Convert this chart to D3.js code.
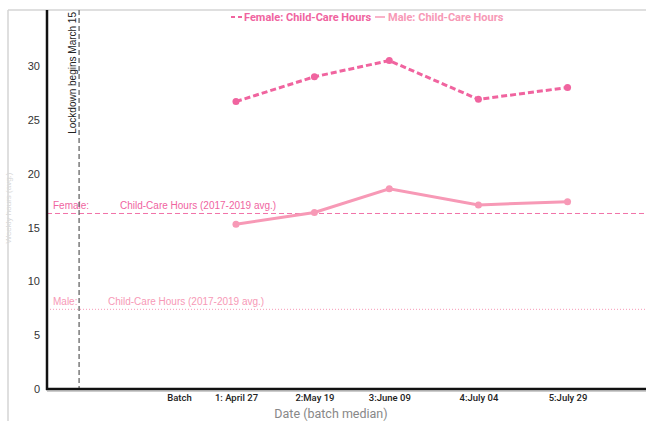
<!DOCTYPE html>
<html>
<head>
<meta charset="utf-8">
<script src="https://cdn.jsdelivr.net/npm/d3@7"></script>
<style>
  body { margin: 0; background: #fff; }
  svg { display: block; font-family: 'Liberation Sans', Arial, sans-serif; }
</style>
</head>
<body>
<svg id="chart"></svg>
<script>
// batch median dates and labels
const batchDates = ['2020-04-11', '2020-04-27', '2020-05-19', '2020-06-09', '2020-07-04', '2020-07-29'];
const batchLabels = ['Batch', '1: April 27', '2:May 19', '3:June 09', '4:July 04', '5:July 29'];
const pointDates = ['2020-04-27', '2020-05-19', '2020-06-09', '2020-07-04', '2020-07-29'];
const femaleHours = [26.7, 29.0, 30.5, 26.9, 28.0];
const maleHours = [15.3, 16.4, 18.6, 17.1, 17.4];
const femaleAvg = 16.3;
const maleAvg = 7.4;
// where the lockdown marker sits on the time axis (label says March 15)
const lockdownDate = '2020-03-14';
const yTicks = [0, 5, 10, 15, 20, 25, 30];

const width = 646;
const height = 421;
const padLeft = 47;
const padTop = 10;
const baseY = 389;

const femaleColor = '#f0649f';
const maleColor = '#f799b6';

const parse = d3.timeParse('%Y-%m-%d');

const svg = d3.select('#chart').attr('width', width).attr('height', height);

// outer frame
svg.append('line').attr('x1', 8).attr('x2', width).attr('y1', padTop).attr('y2', padTop)
  .attr('stroke', '#d4d4d4').attr('stroke-width', 1.5);
svg.append('line').attr('x1', 8).attr('x2', 8).attr('y1', padTop).attr('y2', height)
  .attr('stroke', '#d4d4d4').attr('stroke-width', 1.5);

const x = d3.scaleTime()
  .domain([parse('2020-03-05'), parse('2020-08-20')])
  .range([padLeft, width]);

const y = d3.scaleLinear()
  .domain([0, 35.2])
  .range([baseY, padTop]);

// faint y title
svg.append('text')
  .attr('transform', 'translate(11,' + 208 + ') rotate(-90)')
  .attr('text-anchor', 'middle')
  .style('font-size', '8px')
  .style('fill', '#d8d8d8')
  .text('Weekly hours (avg.)');

// reference lines
svg.append('line')
  .attr('x1', padLeft).attr('x2', width)
  .attr('y1', y(femaleAvg)).attr('y2', y(femaleAvg))
  .attr('stroke', femaleColor).attr('stroke-width', 1).attr('stroke-dasharray', '5,3')
  .attr('opacity', 0.9);
svg.append('line')
  .attr('x1', padLeft).attr('x2', width)
  .attr('y1', y(maleAvg)).attr('y2', y(maleAvg))
  .attr('stroke', maleColor).attr('stroke-width', 1).attr('stroke-dasharray', '1,2');

svg.append('text').attr('x', 53).attr('y', y(femaleAvg) - 4)
  .style('font-size', '10px').style('fill', femaleColor).text('Female:');
svg.append('text').attr('x', 120).attr('y', y(femaleAvg) - 4)
  .style('font-size', '10px').style('fill', femaleColor).text('Child-Care Hours (2017-2019 avg.)');
svg.append('text').attr('x', 53).attr('y', y(maleAvg) - 4)
  .style('font-size', '10px').style('fill', maleColor).text('Male:');
svg.append('text').attr('x', 108).attr('y', y(maleAvg) - 4)
  .style('font-size', '10px').style('fill', maleColor).text('Child-Care Hours (2017-2019 avg.)');

// lockdown line
const lx = x(parse(lockdownDate));
svg.append('line')
  .attr('x1', lx).attr('x2', lx).attr('y1', padTop).attr('y2', baseY)
  .attr('stroke', '#666').attr('stroke-width', 1.3).attr('stroke-dasharray', '5,3');
svg.append('text')
  .attr('transform', 'translate(' + (lx - 3) + ',' + 12 + ') rotate(-90)')
  .attr('text-anchor', 'end')
  .style('font-size', '10px')
  .style('fill', '#222')
  .text('Lockdown begins March 15');

// series
const female = pointDates.map((d, i) => ({ date: parse(d), v: femaleHours[i] }));
const male = pointDates.map((d, i) => ({ date: parse(d), v: maleHours[i] }));
const line = d3.line().x(d => x(d.date)).y(d => y(d.v));

svg.append('path').datum(male)
  .attr('d', line).attr('fill', 'none')
  .attr('stroke', maleColor).attr('stroke-width', 3);
svg.selectAll('.mdot').data(male).enter().append('circle')
  .attr('cx', d => x(d.date)).attr('cy', d => y(d.v)).attr('r', 3.5)
  .attr('fill', maleColor);

svg.append('path').datum(female)
  .attr('d', line).attr('fill', 'none')
  .attr('stroke', femaleColor).attr('stroke-width', 3).attr('stroke-dasharray', '6,3');
svg.selectAll('.fdot').data(female).enter().append('circle')
  .attr('cx', d => x(d.date)).attr('cy', d => y(d.v)).attr('r', 3.5)
  .attr('fill', femaleColor);

// axes
const yAxis = d3.axisLeft(y).tickValues(yTicks).tickSize(0).tickPadding(7);
const yG = svg.append('g').attr('transform', 'translate(' + padLeft + ',0)').call(yAxis);
yG.select('.domain').remove();
yG.selectAll('text').style('font-size', '11px').style('fill', '#333')
  .style('font-family', "'Liberation Sans', Arial, sans-serif");

const xAxis = d3.axisBottom(x)
  .tickValues(batchDates.map(parse))
  .tickFormat((d, i) => batchLabels[i])
  .tickSize(0).tickPadding(5);
const xG = svg.append('g').attr('transform', 'translate(0,' + baseY + ')').call(xAxis);
xG.select('.domain').remove();
xG.selectAll('text').style('font-size', '9.5px').style('fill', '#222')
  .style('font-family', 'Roboto, sans-serif').style('font-weight', '500');

svg.append('line').attr('x1', padLeft).attr('x2', padLeft).attr('y1', padTop).attr('y2', baseY + 1)
  .attr('stroke', '#111').attr('stroke-width', 2.5);
svg.append('line').attr('x1', padLeft - 1).attr('x2', width).attr('y1', baseY).attr('y2', baseY)
  .attr('stroke', '#111').attr('stroke-width', 2.5);
svg.append('line').attr('x1', padLeft).attr('x2', width).attr('y1', baseY + 2).attr('y2', baseY + 2)
  .attr('stroke', '#999').attr('stroke-width', 1);

svg.append('text')
  .attr('x', 331).attr('y', 418)
  .attr('text-anchor', 'middle')
  .style('font-family', 'Roboto, sans-serif')
  .style('font-size', '12.5px')
  .style('fill', '#888')
  .text('Date (batch median)');

// legend
const legend = svg.append('g').attr('transform', 'translate(230,17)');
legend.append('line').attr('x1', 1).attr('x2', 12).attr('y1', 0).attr('y2', 0)
  .attr('stroke', femaleColor).attr('stroke-width', 2).attr('stroke-dasharray', '4,3');
legend.append('text').attr('x', 14).attr('y', 4)
  .style('font-family', 'Roboto, sans-serif').style('font-weight', 'bold')
  .style('font-size', '11px').style('fill', femaleColor)
  .text('Female: Child-Care Hours');
legend.append('line').attr('x1', 145).attr('x2', 155).attr('y1', 0).attr('y2', 0)
  .attr('stroke', maleColor).attr('stroke-width', 1.5);
legend.append('text').attr('x', 158).attr('y', 4)
  .style('font-family', 'Roboto, sans-serif').style('font-weight', 'bold')
  .style('font-size', '11px').style('fill', maleColor)
  .text('Male: Child-Care Hours');
</script>
</body>
</html>
